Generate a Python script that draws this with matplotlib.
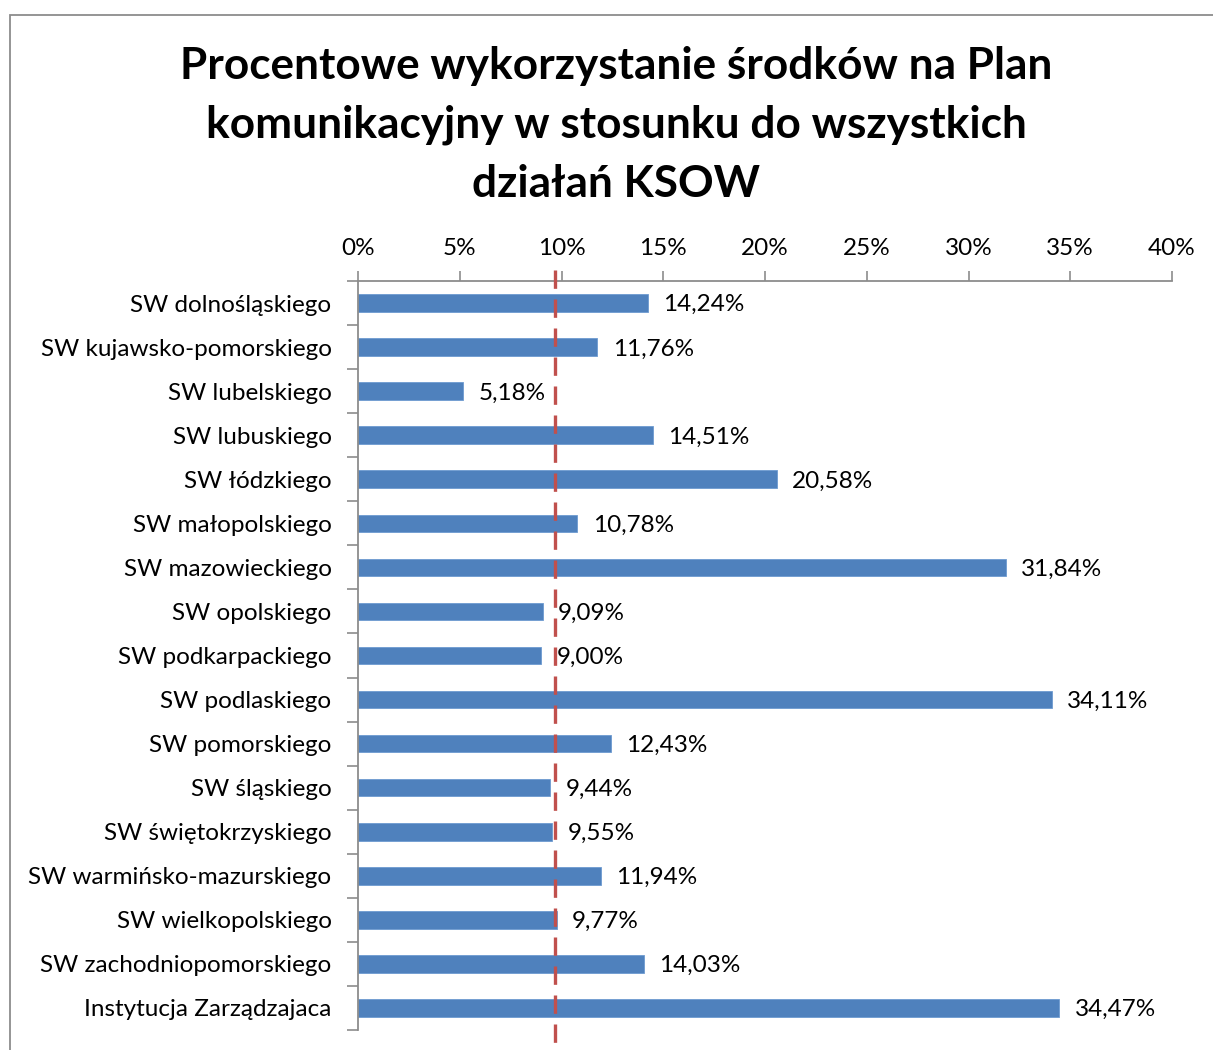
import matplotlib
matplotlib.use("Agg")
import matplotlib.pyplot as plt
from matplotlib.patches import Rectangle
import numpy as np

categories = [
    "SW dolnośląskiego", "SW kujawsko-pomorskiego", "SW lubelskiego", "SW lubuskiego",
    "SW łódzkiego", "SW małopolskiego", "SW mazowieckiego", "SW opolskiego",
    "SW podkarpackiego", "SW podlaskiego", "SW pomorskiego", "SW śląskiego",
    "SW świętokrzyskiego", "SW warmińsko-mazurskiego", "SW wielkopolskiego",
    "SW zachodniopomorskiego", "Instytucja Zarządzajaca",
]
values = [14.24, 11.76, 5.18, 14.51, 20.58, 10.78, 31.84, 9.09, 9.00, 34.11,
          12.43, 9.44, 9.55, 11.94, 9.77, 14.03, 34.47]
reference_line = 9.7
x_ticks = [0, 5, 10, 15, 20, 25, 30, 35, 40]
title = "Procentowe wykorzystanie środków na Plan\nkomunikacyjny w stosunku do wszystkich\ndziałań KSOW"

FONT = ["Lato", "DejaVu Sans"]
plt.rcParams["font.family"] = FONT

W, H = 1213, 1050
fig = plt.figure(figsize=(W / 100, H / 100), dpi=100)
fig.patch.set_facecolor("white")

# outer chart border
fig.add_artist(Rectangle((10 / W, -0.1), 1.2, (1 - 14.5 / H) + 0.1, transform=fig.transFigure,
                         fill=False, edgecolor="#8c8c8c", linewidth=1.3))

ax = fig.add_axes([358 / W, 1 - 1030 / H, (1172 - 358) / W, (1030 - 281) / H])
y = np.arange(len(categories))
ax.barh(y, values, height=0.40, color="#4F81BD", edgecolor="#6d9ad0", linewidth=0.6, zorder=2)
ax.set_xlim(0, 40)
ax.set_ylim(len(categories) - 0.5, -0.5)

FS = 17.5
ax.xaxis.tick_top()
ax.set_xticks(x_ticks)
ax.set_xticklabels([f"{t}%" for t in x_ticks], fontsize=FS)
ax.tick_params(axis="x", direction="out", length=7, width=1.2, color="#8c8c8c", pad=8.5)

ax.set_yticks(y)
ax.set_yticklabels(categories, fontsize=FS)
ax.tick_params(axis="y", which="major", length=0, pad=19)
ax.set_yticks(np.arange(-0.5, len(categories), 1.0), minor=True)
ax.tick_params(axis="y", which="minor", direction="out", length=8, width=1.2, color="#8c8c8c")

for s in ["right", "bottom"]:
    ax.spines[s].set_visible(False)
for s in ["top", "left"]:
    ax.spines[s].set_color("#8c8c8c")
    ax.spines[s].set_linewidth(1.3)

for yi, v in zip(y, values):
    ax.text(v + 0.75, yi + 0.04, f"{v:.2f}%".replace(".", ","), va="center", ha="left",
            fontsize=FS, zorder=4)

ax.plot([reference_line, reference_line], [-0.75, 17.5], color="#C0504D", linewidth=2.4,
        dashes=(5.5, 3.2), clip_on=False, zorder=3)

fig.text(616 / W, 1 - 125 / H, title, ha="center", va="center", fontsize=31.8,
         fontweight="bold", linespacing=1.56)

fig.savefig("out.png", dpi=100, facecolor="white")
